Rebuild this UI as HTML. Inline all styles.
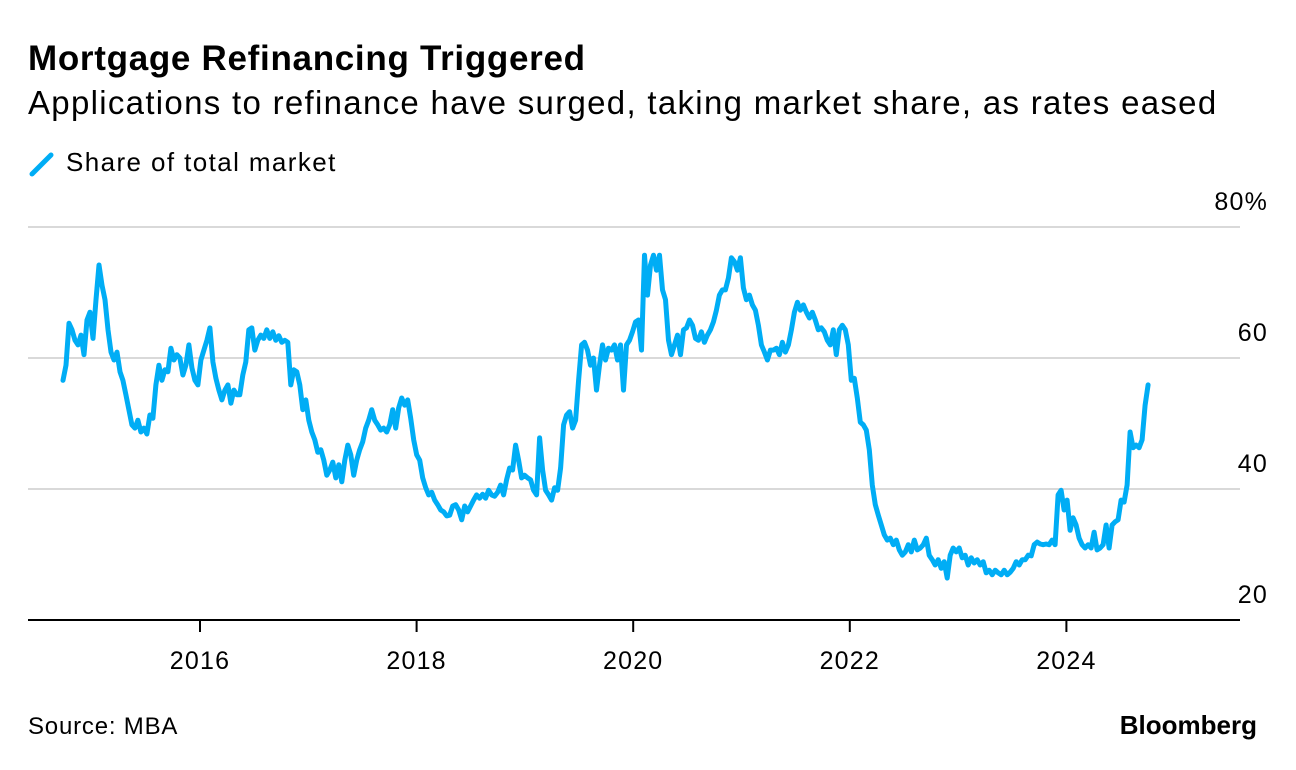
<!DOCTYPE html>
<html><head><meta charset="utf-8"><style>
body{margin:0;background:#fff;font-family:"Liberation Sans",sans-serif;}
#wrap{position:relative;width:1296px;height:770px;overflow:hidden;}
.t{position:absolute;white-space:nowrap;color:#000;}
</style></head><body>
<div id="wrap">
<div class="t" style="left:28px;top:39px;font-size:35px;font-weight:bold;letter-spacing:0.7px;">Mortgage Refinancing Triggered</div>
<div class="t" style="left:28px;top:84px;font-size:33px;letter-spacing:1.3px;">Applications to refinance have surged, taking market share, as rates eased</div>
<div style="position:absolute;left:28px;top:146px;">
<svg width="30" height="32" style="position:absolute;left:0;top:0"><line x1="4" y1="28" x2="23" y2="9" stroke="#00adf5" stroke-width="5" stroke-linecap="round"/></svg>
<div class="t" style="left:38px;top:1px;font-size:26px;letter-spacing:1.4px;">Share of total market</div>
</div>
<svg id="chart" width="1296" height="770" style="position:absolute;left:0;top:0"></svg>
<div class="t" style="left:28px;top:713px;font-size:24px;letter-spacing:0.8px;">Source: MBA</div>
<div class="t" style="right:39px;top:710px;font-size:26px;font-weight:bold;letter-spacing:0px;">Bloomberg</div>
</div>
<script>
const startYear = 2014.735;
const endYear = 2024.754;
const yTicks = [20, 40, 60, 80];
const yTickLabels = ["20", "40", "60", "80%"];
const xTicks = [2016, 2018, 2020, 2022, 2024];
const xTickLabels = ["2016", "2018", "2020", "2022", "2024"];
const shareValues = [56.6,58.9,65.3,64.3,62.7,62,63.5,60.5,65.8,67,63,68.9,74.2,71.1,68.9,64.3,60.9,59.7,60.9,57.9,56.6,54.4,52.1,49.8,49.3,50.5,48.7,49.3,48.4,51.3,50.8,55.9,58.9,56.6,58.2,57.9,61.5,59.7,60.5,60,57.4,58.9,62,58.5,56.6,55.9,59.7,61.2,62.7,64.6,59.4,56.9,55.1,53.6,55.1,55.9,53.1,55.1,54.4,54.4,57.4,59.4,64.3,64.6,61.2,62.7,63.5,63,64.3,63,64,62.7,63.4,62.4,62.7,62.4,55.9,58.2,57.9,55.9,52.1,53.6,50.5,48.7,47.5,45.6,46,44.4,42.1,42.9,44.1,41.7,43.7,41.1,44.4,46.7,45.2,42.1,44.4,46,47.2,49.3,50.5,52.1,50.5,49.8,49,49.3,48.7,49.8,52.1,49.3,52.4,53.9,52.8,53.6,50.8,47.5,45.2,44.4,41.7,40.2,39.1,39.5,38.3,37.6,36.8,36.5,35.9,36,37.4,37.6,36.8,35.3,37.4,36.5,37.4,38.3,39.1,38.6,39.2,38.6,39.8,39.1,38.9,39.5,40.6,39.1,41.4,43.2,42.9,46.7,44.4,41.7,42.1,41.7,41.4,39.8,39.1,47.8,42.9,39.8,39.1,38.3,40.2,39.8,43.2,49.8,51.3,51.8,49.3,50.5,56.6,62,62.4,61.2,58.9,60,55.1,58.9,62,59.7,61.5,61.2,62,59.7,62,55.1,62,62.7,64,65.5,65.8,61.2,75.7,69.6,74.2,75.7,73.4,75.7,70.4,68.9,62.7,60.5,62,63.5,60.5,64.3,64.6,65.8,65,63,62.7,64,62.4,63.5,64.3,65.5,67.3,69.6,70.4,70.4,72.2,75.3,74.7,73.4,75.3,70.7,68.9,69.6,68.1,67.3,65,62,60.9,59.7,61.2,61.2,61.5,60.5,62.4,60.9,62,64.3,67,68.5,67.3,68.1,67,66.1,67,65.8,64.3,64.6,64,62.7,62,64.3,60.5,64.3,65,64.3,62,56.6,56.9,53.9,50.2,49.8,49,46,40.6,37.6,36,34.5,33,32.2,32.5,31.5,32.2,30.7,29.9,30.4,31.5,30.4,32.2,30.7,31,31.5,32.5,29.9,29.2,28.4,29.2,27.9,28.9,26.4,29.9,31,30.4,31,29.5,29.9,28.4,29.5,28.7,29.2,28.4,28.9,27.2,27.6,26.9,27.6,27.2,26.9,27.6,26.9,27.3,27.9,28.9,28.4,29.2,29.2,29.9,29.8,31.5,31.9,31.6,31.5,31.6,31.5,32.2,31.5,39.1,39.8,36.8,38.3,33.7,35.6,34.5,32.5,31.5,31,31.5,31,33.4,30.7,31,31.5,34.5,31,34.5,35,35.3,38.3,38,40.6,48.7,46.3,46.7,46.3,47.5,52.8,55.9];

const NS = "http://www.w3.org/2000/svg";
const svg = document.getElementById('chart');
const plotL = 28, plotR = 1240;
function yScale(v){ return 620 - (v - 20) * (393 / 60); }
function xScale(yr){ return 200 + (yr - 2016) * 108.3; }
function mk(tag, attrs){ const e = document.createElementNS(NS, tag); for (const k in attrs) e.setAttribute(k, attrs[k]); svg.appendChild(e); return e; }

yTicks.forEach((v, i) => {
  if (v > 20) {
    const g = mk('line', {x1: plotL, x2: plotR, y1: yScale(v), y2: yScale(v), stroke: '#d9d9d9', 'stroke-width': 2});
    
    
  }
  const t = mk('text', {x: 1268, y: yScale(v) - 17, 'text-anchor': 'end', 'font-size': 25, 'letter-spacing': 1.2, 'font-family': 'Liberation Sans, sans-serif', fill: '#000'});
  t.textContent = yTickLabels[i];
  
  
});
const base = mk('line', {x1: plotL, x2: plotR, y1: 620, y2: 620, stroke: '#000', 'stroke-width': 2});


xTicks.forEach((yr, i) => {
  const tk = mk('line', {x1: xScale(yr), x2: xScale(yr), y1: 620, y2: 632, stroke: '#000', 'stroke-width': 2});
  
  
  const t = mk('text', {x: xScale(yr), y: 669, 'text-anchor': 'middle', 'font-size': 25, 'letter-spacing': 1.2, 'font-family': 'Liberation Sans, sans-serif', fill: '#000'});
  t.textContent = xTickLabels[i];
  
  
});
const n = shareValues.length;
const step = (endYear - startYear) / (n - 1);
let d = '';
shareValues.forEach((v, i) => {
  d += (i ? 'L' : 'M') + xScale(startYear + i * step).toFixed(1) + ',' + yScale(v).toFixed(1);
});
const line = mk('path', {d: d, fill: 'none', stroke: '#00adf5', 'stroke-width': 5, 'stroke-linejoin': 'round', 'stroke-linecap': 'round'});


</script>
</body></html>
